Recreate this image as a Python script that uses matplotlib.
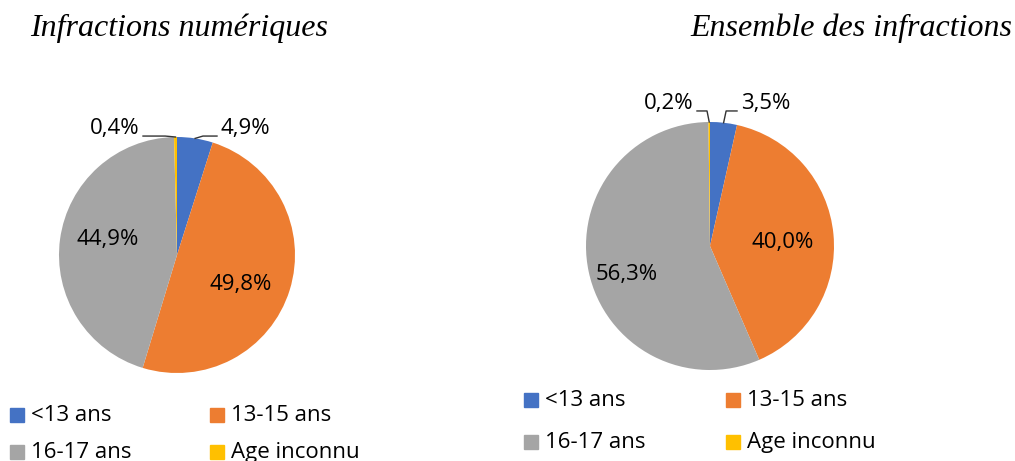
import numpy as np
import matplotlib.pyplot as plt

categories = ['<13 ans', '13-15 ans', '16-17 ans', 'Age inconnu']
colors = ['#4472C4', '#ED7D31', '#A5A5A5', '#FFC000']

titles = ['Infractions numériques', 'Ensemble des infractions']
num_vals = [4.9, 49.8, 44.9, 0.4]
all_vals = [3.5, 40.0, 56.3, 0.2]

W, H = 1015, 461
fig = plt.figure(figsize=(W / 100, H / 100), dpi=100)
LAB_FS = 16
LEG_FS = 16


def fmt(v):
    return ('%.1f%%' % v).replace('.', ',')


def draw_pie(cx, cy, r, vals, title, tx, ty, inside, small, leg_x, leg_y, leg_dy, col_dx):
    ax = fig.add_axes([(cx - r) / W, (H - cy - r) / H, 2 * r / W, 2 * r / H])
    wedges, _ = ax.pie(vals, colors=colors, startangle=90, counterclock=False,
                       radius=1, wedgeprops=dict(linewidth=0))
    ax.set_xlim(-1, 1)
    ax.set_ylim(-1, 1)
    ax.set_aspect('auto')
    ax.axis('off')

    # labels of the big slices, inside
    for i, (px, py) in inside.items():
        ax.text(px, py, fmt(vals[i]), ha='center', va='center',
                fontsize=LAB_FS, family='Open Sans')

    # small slices: label outside with a leader line
    for i, (elbow, lx, side) in small.items():
        w = wedges[i]
        a = np.radians((w.theta1 + w.theta2) / 2)
        x0, y0 = np.cos(a), np.sin(a)
        ex, ey = elbow
        ax.plot([x0, ex, lx], [y0, ey, ey], color='#333333', lw=1.0, clip_on=False)
        ax.text(lx + 0.03 * side, ey + 0.06, fmt(vals[i]),
                ha='left' if side > 0 else 'right', va='center', fontsize=LAB_FS,
                family='Open Sans', clip_on=False)

    fig.text(tx / W, 1 - ty / H, title, fontsize=23, style='italic',
             family='Liberation Serif', va='center')

    # legend 2 x 2
    for k, (lab, col) in enumerate(zip(categories, colors)):
        row, colm = divmod(k, 2)
        x = leg_x + colm * col_dx
        y = leg_y + row * leg_dy
        fig.patches.append(plt.Rectangle((x / W, 1 - (y + 7) / H), 14 / W, 14 / H,
                                         transform=fig.transFigure, color=col))
        fig.text((x + 21) / W, 1 - y / H, lab, fontsize=LEG_FS, family='Open Sans',
                 va='center', ha='left')


draw_pie(177, 255, 118, num_vals, titles[0], 30, 28,
         {2: (-0.59, 0.13), 1: (0.54, -0.25)},
         {3: ((-0.10, 1.008), -0.288, -1), 0: ((0.22, 1.008), 0.339, 1)},
         10, 415, 37, 200)
draw_pie(710, 246, 124, all_vals, titles[1], 690, 28,
         {1: (0.59, 0.03), 2: (-0.67, -0.23)},
         {3: ((-0.024, 1.089), -0.105, -1), 0: ((0.13, 1.089), 0.218, 1)},
         524, 400, 42, 202)

fig.savefig('out.png', dpi=100)
